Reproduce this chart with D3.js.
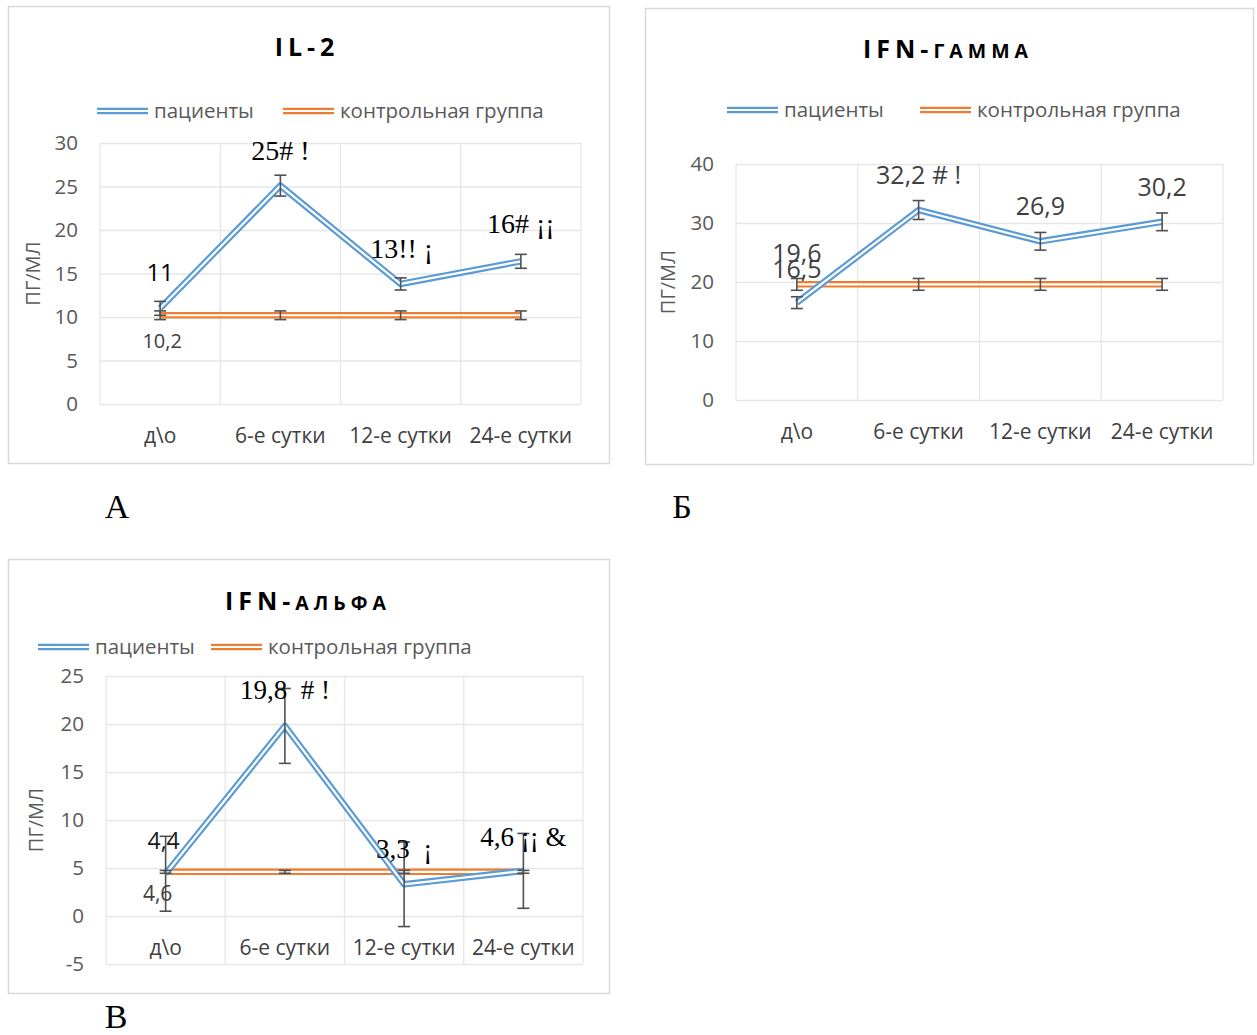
<!DOCTYPE html>
<html>
<head>
<meta charset="utf-8">
<script src="https://cdn.jsdelivr.net/npm/d3@7"></script>
<style>
  body { margin: 0; background: #fff; }
</style>
</head>
<body>
<div id="grafico"></div>
<script>
const categories = ["д\\о", "6-е сутки", "12-е сутки", "24-е сутки"];
const seriesNames = ["пациенты", "контрольная группа"];

// IL-2
const il2Patients    = [11, 25.1, 13.8, 16.4];
const il2PatientsErr = [0.8, 1.2, 0.7, 0.8];
const il2Control     = [10.2, 10.2, 10.2, 10.2];
const il2ControlErr  = [0.5, 0.5, 0.5, 0.5];
const il2Ticks       = [0, 5, 10, 15, 20, 25, 30];
const il2PatientLabels = ["11", "25# !", "13!! ¡", "16# ¡¡"];
const il2ControlLabels = ["10,2", "", "", ""];

// IFN-гамма
const ifngPatients    = [16.5, 32.2, 26.9, 30.2];
const ifngPatientsErr = [1.0, 1.6, 1.5, 1.5];
const ifngControl     = [19.6, 19.6, 19.6, 19.6];
const ifngControlErr  = [1.0, 1.0, 1.0, 1.0];
const ifngTicks       = [0, 10, 20, 30, 40];
const ifngPatientLabels = ["16,5", "32,2 # !", "26,9", "30,2"];
const ifngControlLabels = ["19,6", "", "", ""];

// IFN-альфа
const ifnaPatients    = [4.4, 19.8, 3.3, 4.7];
const ifnaPatientsErr = [3.9, 3.9, 4.4, 3.9];
const ifnaControl     = [4.6, 4.6, 4.6, 4.6];
const ifnaControlErr  = [0.15, 0.15, 0.15, 0.15];
const ifnaTicks       = [-5, 0, 5, 10, 15, 20, 25];
const ifnaPatientLabels = ["4,4", "19,8  # !", "3,3  ¡", "4,6 ¡¡ &"];
const ifnaControlLabels = ["4,6", "", "", ""];

const blue = "#5b9bd5";
const orange = "#ed7d31";
const sans = "'Open Sans', sans-serif";
const serif = "'Liberation Serif', 'Times New Roman', serif";

const svg = d3.select("#grafico")
              .append("svg")
              .attr("width", 1257)
              .attr("height", 1035);

svg.append("rect").attr("width", 1257).attr("height", 1035).attr("fill", "#fff");

// style for each data label: font, size, colour, offset from the point
const S = (font, size, fill, dx, dy) => ({ font, size, fill, dx, dy });

const panels = [
  {
    frame: { x: 8, y: 6, w: 601, h: 457 },
    plot: { left: 100, right: 581, top: 143, bottom: 404 },
    domain: [0, 30], ticks: il2Ticks,
    title: ["IL-2", ""], titleX: 307, titleY: 56,
    legendY: 111, legendX: [97, 283],
    yTitleX: 33,
    patients: il2Patients, patientsErr: il2PatientsErr,
    control: il2Control, controlErr: il2ControlErr,
    patientLabels: il2PatientLabels, controlLabels: il2ControlLabels,
    patientStyle: [S(sans, 24, "#000", 0, -27), S(serif, 28, "#000", 0, -26),
                   S(serif, 28, "#000", 1, -26), S(serif, 28, "#000", 0, -28)],
    controlStyle: [S(sans, 20, "#404040", 2, 33)],
    letter: "А", letterX: 117, letterY: 518
  },
  {
    frame: { x: 645, y: 8, w: 608, h: 456 },
    plot: { left: 736, right: 1223, top: 164, bottom: 400 },
    domain: [0, 40], ticks: ifngTicks,
    title: ["IFN-", "гамма"], titleX: 948, titleY: 58,
    legendY: 110, legendX: [727, 920],
    yTitleX: 668,
    patients: ifngPatients, patientsErr: ifngPatientsErr,
    control: ifngControl, controlErr: ifngControlErr,
    patientLabels: ifngPatientLabels, controlLabels: ifngControlLabels,
    patientStyle: [S(sans, 25, "#404040", 0, -25), S(sans, 25, "#404040", 0, -26),
                   S(sans, 25, "#404040", 0, -26), S(sans, 25, "#404040", 0, -26)],
    controlStyle: [S(sans, 25, "#404040", 0, -22)],
    letter: "Б", letterX: 682, letterY: 518
  },
  {
    frame: { x: 8, y: 559, w: 601, h: 434 },
    plot: { left: 106, right: 583, top: 676, bottom: 964 },
    domain: [-5, 25], ticks: ifnaTicks,
    title: ["IFN-", "альфа"], titleX: 308, titleY: 610,
    legendY: 647, legendX: [38, 211],
    yTitleX: 36,
    patients: ifnaPatients, patientsErr: ifnaPatientsErr,
    control: ifnaControl, controlErr: ifnaControlErr,
    patientLabels: ifnaPatientLabels, controlLabels: ifnaControlLabels,
    patientStyle: [S(sans, 23, "#1a1a1a", -2, -25), S(serif, 27, "#000", 0, -27),
                   S(serif, 27, "#000", 0, -26), S(serif, 27, "#000", 0, -25)],
    controlStyle: [S(sans, 21, "#404040", -8, 29)],
    letter: "В", letterX: 116, letterY: 1028
  }
];

function drawPanel(cfg) {
  const p = cfg.plot;
  const g = svg.append("g");

  g.append("rect")
   .attr("x", cfg.frame.x + 0.5).attr("y", cfg.frame.y + 0.5)
   .attr("width", cfg.frame.w).attr("height", cfg.frame.h)
   .attr("fill", "#fff").attr("stroke", "#d9d9d9").attr("stroke-width", 1.5);

  const y = d3.scaleLinear().domain(cfg.domain).range([p.bottom, p.top]);
  const x = d3.scaleBand().domain(categories).range([p.left, p.right]);
  const cx = i => x(categories[i]) + x.bandwidth() / 2;

  // horizontal grid + y tick labels
  g.append("g")
   .attr("transform", `translate(${p.left},0)`)
   .call(d3.axisLeft(y).tickValues(cfg.ticks).tickFormat(d => String(d))
           .tickSize(-(p.right - p.left)).tickPadding(22))
   .call(a => a.select(".domain").remove())
   .call(a => a.selectAll("line").attr("stroke", "#e6e6e6").attr("stroke-width", 1.3))
   .call(a => a.selectAll("text")
               .attr("font-family", sans).attr("font-size", 20.5).attr("fill", "#595959"));

  // vertical grid at category edges
  const edges = categories.map(c => x(c)).concat([p.right]);
  g.selectAll(".vgrid").data(edges).join("line")
   .attr("x1", d => d).attr("x2", d => d)
   .attr("y1", p.top).attr("y2", p.bottom)
   .attr("stroke", "#e6e6e6").attr("stroke-width", 1.3);

  // category labels under the zero line
  g.append("g")
   .attr("transform", `translate(0,${y(0)})`)
   .call(d3.axisBottom(x).tickSize(0))
   .call(a => a.select(".domain").remove())
   .call(a => a.selectAll("text")
               .attr("y", 32).attr("dy", "0.35em")
               .attr("font-family", sans).attr("font-size", 21).attr("fill", "#404040"));

  // y axis title
  const yMid = (p.top + p.bottom) / 2;
  g.append("text")
   .attr("transform", `translate(${cfg.yTitleX},${yMid}) rotate(-90)`)
   .attr("text-anchor", "middle").attr("dy", "0.35em")
   .attr("font-family", sans).attr("font-size", 20).attr("fill", "#595959")
   .text("ПГ/МЛ");

  // title: latin part in capitals, cyrillic part as small capitals
  const t = g.append("text")
   .attr("x", cfg.titleX).attr("y", cfg.titleY)
   .attr("text-anchor", "middle")
   .attr("font-family", sans).attr("font-weight", "bold")
   .attr("letter-spacing", 5);
  t.append("tspan").attr("font-size", 25).text(cfg.title[0]);
  t.append("tspan").attr("font-size", 19.5)
   .style("text-transform", "uppercase").text(cfg.title[1]);

  // legend
  [blue, orange].forEach((col, k) => {
    const lx = cfg.legendX[k];
    g.append("line").attr("x1", lx).attr("x2", lx + 51)
     .attr("y1", cfg.legendY).attr("y2", cfg.legendY)
     .attr("stroke", col).attr("stroke-width", 6.5);
    g.append("line").attr("x1", lx).attr("x2", lx + 51)
     .attr("y1", cfg.legendY).attr("y2", cfg.legendY)
     .attr("stroke", "#fff").attr("stroke-width", 2.2);
    g.append("text")
     .attr("x", lx + 57).attr("y", cfg.legendY).attr("dy", "0.35em")
     .attr("font-family", sans).attr("font-size", 20.5).attr("fill", "#595959")
     .text(seriesNames[k]);
  });

  const line = d3.line().x((d, i) => cx(i)).y(d => y(d));

  const drawSeries = (values, col) => {
    g.append("path").attr("d", line(values)).attr("fill", "none")
     .attr("stroke", col).attr("stroke-width", 6.5).attr("stroke-linejoin", "round");
    g.append("path").attr("d", line(values)).attr("fill", "none")
     .attr("stroke", "#fff").attr("stroke-width", 2.2).attr("stroke-linejoin", "round");
  };
  const drawErr = (values, errs) => {
    const eg = g.append("g").attr("stroke", "#505050").attr("stroke-width", 1.6);
    values.forEach((v, i) => {
      const x0 = cx(i), y1 = y(v + errs[i]), y2 = y(v - errs[i]);
      eg.append("line").attr("x1", x0).attr("x2", x0).attr("y1", y1).attr("y2", y2);
      eg.append("line").attr("x1", x0 - 6).attr("x2", x0 + 6).attr("y1", y1).attr("y2", y1);
      eg.append("line").attr("x1", x0 - 6).attr("x2", x0 + 6).attr("y1", y2).attr("y2", y2);
    });
  };

  drawSeries(cfg.control, orange);
  drawSeries(cfg.patients, blue);
  drawErr(cfg.control, cfg.controlErr);
  drawErr(cfg.patients, cfg.patientsErr);

  // data labels
  const drawLabels = (values, labels, styles) => {
    labels.forEach((txt, i) => {
      if (!txt) return;
      const s = styles[i];
      g.append("text")
       .attr("x", cx(i) + s.dx).attr("y", y(values[i]) + s.dy)
       .attr("text-anchor", "middle")
       .attr("font-family", s.font).attr("font-size", s.size).attr("fill", s.fill)
       .style("white-space", "pre")
       .text(txt);
    });
  };
  drawLabels(cfg.control, cfg.controlLabels, cfg.controlStyle);
  drawLabels(cfg.patients, cfg.patientLabels, cfg.patientStyle);

  // panel letter
  svg.append("text")
     .attr("x", cfg.letterX).attr("y", cfg.letterY)
     .attr("text-anchor", "middle")
     .attr("font-family", serif).attr("font-size", 34).attr("fill", "#000")
     .text(cfg.letter);
}

panels.forEach(drawPanel);
</script>
</body>
</html>
